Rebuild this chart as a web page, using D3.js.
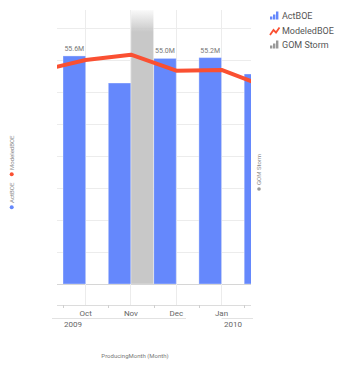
<!DOCTYPE html>
<html><head><meta charset="utf-8">
<script src="https://cdn.jsdelivr.net/npm/d3@7"></script>
<style>body{margin:0;background:#fff}svg{display:block;font-family:Roboto,"Noto Sans",sans-serif}</style>
</head><body><svg id="c" width="360" height="368"></svg>
<script>
// ---- data ----
const months = ["Sep","Oct","Nov","Dec","Jan","Feb"];
const monthLabels = ["","Oct","Nov","Dec","Jan",""];
const years = ["2009","2010"];
const actBOE = [null, 55.6, 49.0, 55.0, 55.2, 51.2];
const modeledBOE = [52.0, 54.6, 55.9, 52.0, 52.2, 48.0];
const gomStorm = [null, null, 72, null, null, null];
const barLabels = ["", "55.6M", "", "55.0M", "55.2M", ""];
const gridValues = [0, 7.8, 15.6, 23.4, 31.2, 39.0, 46.8, 54.6, 62.4];
const seriesNames = ["ActBOE", "ModeledBOE", "GOM Storm"];

const blue = "#6588fc", red = "#fa5032", gray = "#c8c8c8";
const svg = d3.select("#c");
const L = 57, R = 251, T = 10, B = 284, AX = 305;

const x = d3.scaleBand().domain(months).range([17.7, 289.5]).padding(0);
const x1 = d3.scaleBand().domain(["ActBOE","GOM Storm"]).range([0, x.bandwidth()]).padding(0);
const y = d3.scaleLinear().domain([0, 66.8]).range([B, T]);

const defs = svg.append("defs");
defs.append("clipPath").attr("id","clip").append("rect").attr("x",L).attr("y",T).attr("width",R-L).attr("height",B-T);
defs.append("clipPath").attr("id","clip2").append("rect").attr("x",L).attr("y",T).attr("width",R-L).attr("height",AX-T);
const grad = defs.append("linearGradient").attr("id","fade").attr("x1",0).attr("x2",0).attr("y1",0).attr("y2",1).attr("gradientUnits","userSpaceOnUse")
  .attr("y1", T).attr("y2", T+22);
grad.append("stop").attr("offset",0).attr("stop-color",gray).attr("stop-opacity",0.1);
grad.append("stop").attr("offset",1).attr("stop-color",gray).attr("stop-opacity",1);

// horizontal gridlines
svg.append("g").selectAll("line").data(gridValues.filter(v=>y(v)>=T)).join("line")
  .attr("x1",L).attr("x2",R).attr("y1",d=>y(d)).attr("y2",d=>y(d))
  .attr("stroke",d=>d===0?"#d6d6d6":"#ececec").attr("stroke-width",1).attr("shape-rendering","crispEdges");
// vertical gridlines
svg.append("g").attr("clip-path","url(#clip2)").selectAll("line").data(months).join("line")
  .attr("x1",d=>x(d)+x.bandwidth()/2).attr("x2",d=>x(d)+x.bandwidth()/2)
  .attr("y1",T).attr("y2",AX).attr("stroke","#ececec").attr("shape-rendering","crispEdges");

const plot = svg.append("g").attr("clip-path","url(#clip)");
// ActBOE bars
plot.append("g").selectAll("rect").data(months.map((m,i)=>({m,v:actBOE[i]})).filter(d=>d.v!=null)).join("rect")
  .attr("x",d=>x(d.m)+x1("ActBOE")).attr("width",x1.bandwidth())
  .attr("y",d=>y(d.v)).attr("height",d=>B-y(d.v))
  .attr("fill",blue).attr("stroke","#fff").attr("stroke-opacity",0.35).attr("stroke-width",1);
// GOM Storm bars (exceed axis -> fade)
plot.append("g").selectAll("rect").data(months.map((m,i)=>({m,v:gomStorm[i]})).filter(d=>d.v!=null)).join("rect")
  .attr("x",d=>x(d.m)+x1("GOM Storm")).attr("width",x1.bandwidth())
  .attr("y",d=>Math.max(T,y(d.v))).attr("height",d=>B-Math.max(T,y(d.v)))
  .attr("fill","url(#fade)").attr("stroke","#fff").attr("stroke-opacity",0.35).attr("stroke-width",1);
// line
const lineGen = d3.line().x((d,i)=>x(months[i])+x.bandwidth()/2).y(d=>y(d));
plot.append("path").datum(modeledBOE).attr("d",lineGen).attr("fill","none")
  .attr("stroke",red).attr("stroke-width",4).attr("stroke-linejoin","round");

// bar labels
svg.append("g").selectAll("text").data(months.map((m,i)=>({m,v:actBOE[i],t:barLabels[i]})).filter(d=>d.t)).join("text")
  .attr("x",d=>x(d.m)+x1("ActBOE")+x1.bandwidth()/2).attr("y",d=>y(d.v)-5)
  .attr("text-anchor","middle").attr("font-size",7).attr("fill","#777").text(d=>d.t);

// x axis
svg.append("line").attr("x1",L).attr("x2",R).attr("y1",AX+0.5).attr("y2",AX+0.5).attr("stroke","#dcdcdc");
svg.append("g").selectAll("line").data(months.filter(m=>x(m)>=L && x(m)<=R)).join("line")
  .attr("x1",d=>Math.round(x(d))+0.5).attr("x2",d=>Math.round(x(d))+0.5).attr("y1",AX).attr("y2",AX+3).attr("stroke","#cfcfcf");
svg.append("g").selectAll("text").data(months.map((m,i)=>({m,t:monthLabels[i]})).filter(d=>d.t)).join("text")
  .attr("x",d=>x(d.m)+x.bandwidth()/2).attr("y",315.5).attr("text-anchor","middle")
  .attr("font-size",8).attr("fill","#666").text(d=>d.t);
// year level
svg.append("line").attr("x1",52).attr("x2",186).attr("y1",318.5).attr("y2",318.5).attr("stroke","#e2e2e2");
svg.append("line").attr("x1",x("Jan")+x.bandwidth()/2).attr("x2",253).attr("y1",318.5).attr("y2",318.5).attr("stroke","#e2e2e2");
svg.append("text").attr("x",64).attr("y",327).attr("font-size",8).attr("fill","#666").text(years[0]);
svg.append("text").attr("x",242).attr("y",327).attr("text-anchor","end").attr("font-size",8).attr("fill","#666").text(years[1]);
svg.append("text").attr("x",135).attr("y",358).attr("text-anchor","middle").attr("font-size",6).attr("fill","#777").text("ProducingMonth (Month)");

// left rotated legend
const ll = svg.append("g");
ll.append("circle").attr("cx",11.7).attr("cy",207.3).attr("r",2).attr("fill",blue);
ll.append("text").attr("transform","translate(14,203) rotate(-90)").attr("font-size",6).attr("fill","#888").text(seriesNames[0]);
ll.append("circle").attr("cx",11.7).attr("cy",174.3).attr("r",2).attr("fill",red);
ll.append("text").attr("transform","translate(14,170) rotate(-90)").attr("font-size",6).attr("fill","#888").text(seriesNames[1]);
// right rotated legend
svg.append("circle").attr("cx",259).attr("cy",189).attr("r",1.8).attr("fill","#999");
svg.append("text").attr("transform","translate(261.3,185) rotate(-90)").attr("font-size",6).attr("fill","#888").text(seriesNames[2]);

// top-right legend
const lg = svg.append("g");
function barsIcon(x0, yb, col){
  [[0,3],[3,5],[6,8]].forEach(([dx,h])=>lg.append("rect").attr("x",x0+dx).attr("y",yb-h).attr("width",2.4).attr("height",h).attr("fill",col));
}
barsIcon(270, 19.5, blue);
lg.append("path").attr("d","M270,35 L273.5,30 L276,32.5 L279.5,27.5").attr("fill","none").attr("stroke",red).attr("stroke-width",1.8);
barsIcon(270, 48.5, "#999");
const ly = [18.8, 34, 48];
seriesNames.forEach((s,i)=>lg.append("text").attr("x",282).attr("y",ly[i]).attr("font-size",9).attr("fill","#555").text(s));
</script></body></html>
